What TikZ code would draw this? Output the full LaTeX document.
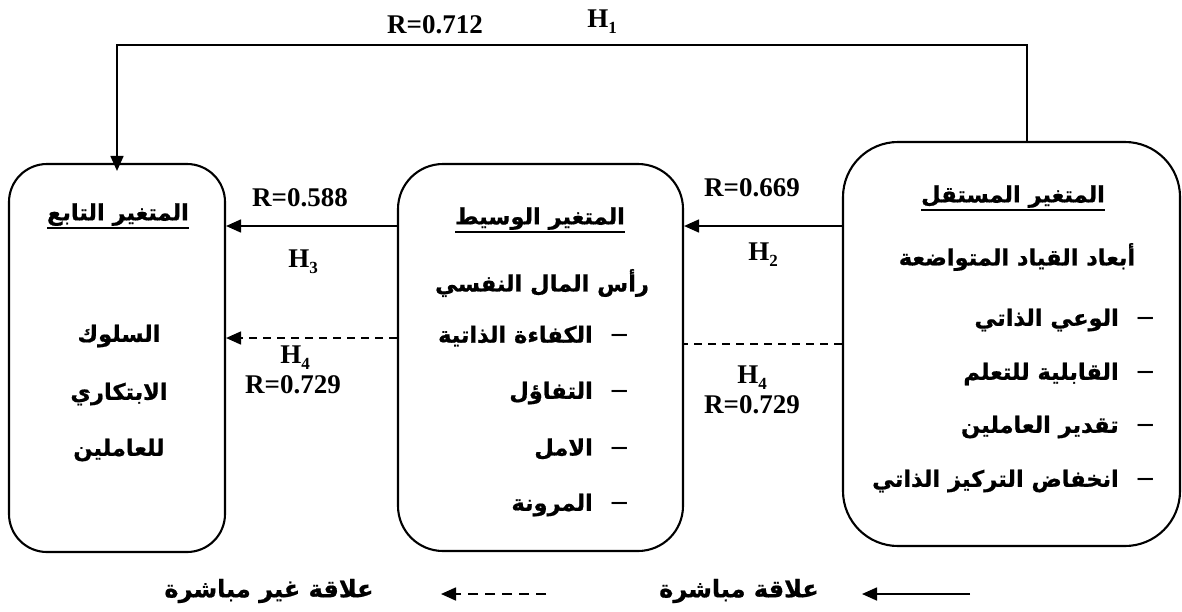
\documentclass[tikz,border=0pt]{standalone}
\usepackage{fontspec}
\setmainfont{Liberation Serif}
\newfontfamily\ar[Script=Arabic, BoldFeatures={FakeBold=0.8}]{DejaVu Sans}
\usetikzlibrary{arrows.meta}
\TeXXeTstate=1
\newcommand{\AR}[1]{{\ar\bfseries\beginR #1\endR}}
\newcommand{\ulAR}[1]{\setbox0\hbox{\AR{#1}}\rlap{\vrule height -6.5pt depth 8.3pt width \wd0}\box0}
\newcommand{\Hs}[1]{H\raisebox{-0.22em}{\fontsize{17}{17}\selectfont #1}}
\newcommand{\dsh}{{\rmfamily\fontsize{30}{30}\selectfont –}\hspace{19pt}}
\begin{document}
\begin{tikzpicture}[x=1pt,y=-1pt,
  box/.style={draw, line width=2.1pt, inner sep=0pt},
  arr/.style={line width=1.7pt, -{Triangle[length=15pt,width=13pt]}},
  dline/.style={line width=1.7pt, dash pattern=on 8pt off 6pt},
  lat/.style={font=\bfseries\fontsize{27}{27}\selectfont, inner sep=0pt},
  art/.style={font=\fontsize{22.5}{22.5}\selectfont, inner sep=0pt},
  leg/.style={font=\fontsize{24}{24}\selectfont, inner sep=0pt},
  itm/.style={art, anchor=east},
]
\useasboundingbox (0,0) rectangle (1182,611);

% boxes
\node[box, minimum width=216pt, minimum height=388pt, rounded corners=38pt] (L) at (117,358) {};
\node[box, minimum width=285pt, minimum height=387pt, rounded corners=45pt] (M) at (540.5,357.5) {};
\node[box, minimum width=337pt, minimum height=404pt, rounded corners=55pt] (R) at (1011.5,344) {};

% left box text
\node[art] (Lt) at (118,216) {\ulAR{المتغير التابع}};
\node[art] (L1) at (119,336) {\AR{السلوك}};
\node[art] (L2) at (119,394) {\AR{الابتكاري}};
\node[art] (L3) at (119,450) {\AR{للعاملين}};

% middle box text
\node[art] (Mt) at (540,220) {\ulAR{المتغير الوسيط}};
\node[art] (Ms) at (542,283) {\AR{رأس المال النفسي}};
\node[itm] (M1) at (627,336) {\AR{\dsh الكفاءة الذاتية}};
\node[itm] (M2) at (627,393) {\AR{\dsh التفاؤل}};
\node[itm] (M3) at (627,449) {\AR{\dsh الامل}};
\node[itm] (M4) at (627,505) {\AR{\dsh المرونة}};

% right box text
\node[art] (Rt) at (1013,198) {\ulAR{المتغير المستقل}};
\node[art] (Rs) at (1017,257) {\AR{أبعاد القياد المتواضعة}};
\node[itm] (R1) at (1153,320) {\AR{\dsh الوعي الذاتي}};
\node[itm] (R2) at (1153,374) {\AR{\dsh القابلية للتعلم}};
\node[itm] (R3) at (1153,427) {\AR{\dsh تقدير العاملين}};
\node[itm] (R4) at (1153,481) {\AR{\dsh انخفاض التركيز الذاتي}};

% connectors
\coordinate (h1r) at (1027,45);
\coordinate (h1l) at (117,45);
\draw[arr, shorten >=-8pt] (R.north -| h1r) -- (h1r) -- (h1l) -- (L.north);
\coordinate (ya) at (0,226);
\draw[arr] (R.west |- ya) -- (M.east |- ya);
\draw[arr] (M.west |- ya) -- (L.east |- ya);
\coordinate (yb) at (0,338);
\coordinate (yc) at (0,344);
\draw[arr, dline] (M.west |- yb) -- (L.east |- yb);
\draw[dline] (R.west |- yc) -- (M.east |- yc);

% labels
\node[lat] (l712) at (435,25) {R=0.712};
\node[lat] (lh1) at (602,22) {\Hs{1}};
\node[lat] (l669) at (752,188) {R=0.669};
\node[lat] (lh2) at (763,255) {\Hs{2}};
\node[lat] (l588) at (300,198) {R=0.588};
\node[lat] (lh3) at (303,262) {\Hs{3}};
\node[lat] (lh4a) at (295,358) {\Hs{4}};
\node[lat] (l729a) at (293,385) {R=0.729};
\node[lat] (lh4b) at (752,378) {\Hs{4}};
\node[lat] (l729b) at (752,405) {R=0.729};

% legend
\node[leg] (g1) at (269,591) {\AR{علاقة غير مباشرة}};
\coordinate (d1s) at (546,594);
\coordinate (d1e) at (441,594);
\draw[arr, line width=1.7pt, dash pattern=on 10pt off 7pt] (d1s) -- (d1e);
\node[leg] (g2) at (739,591) {\AR{علاقة مباشرة}};
\coordinate (s1s) at (970,594);
\coordinate (s1e) at (862,594);
\draw[arr] (s1s) -- (s1e);
\end{tikzpicture}
\end{document}
